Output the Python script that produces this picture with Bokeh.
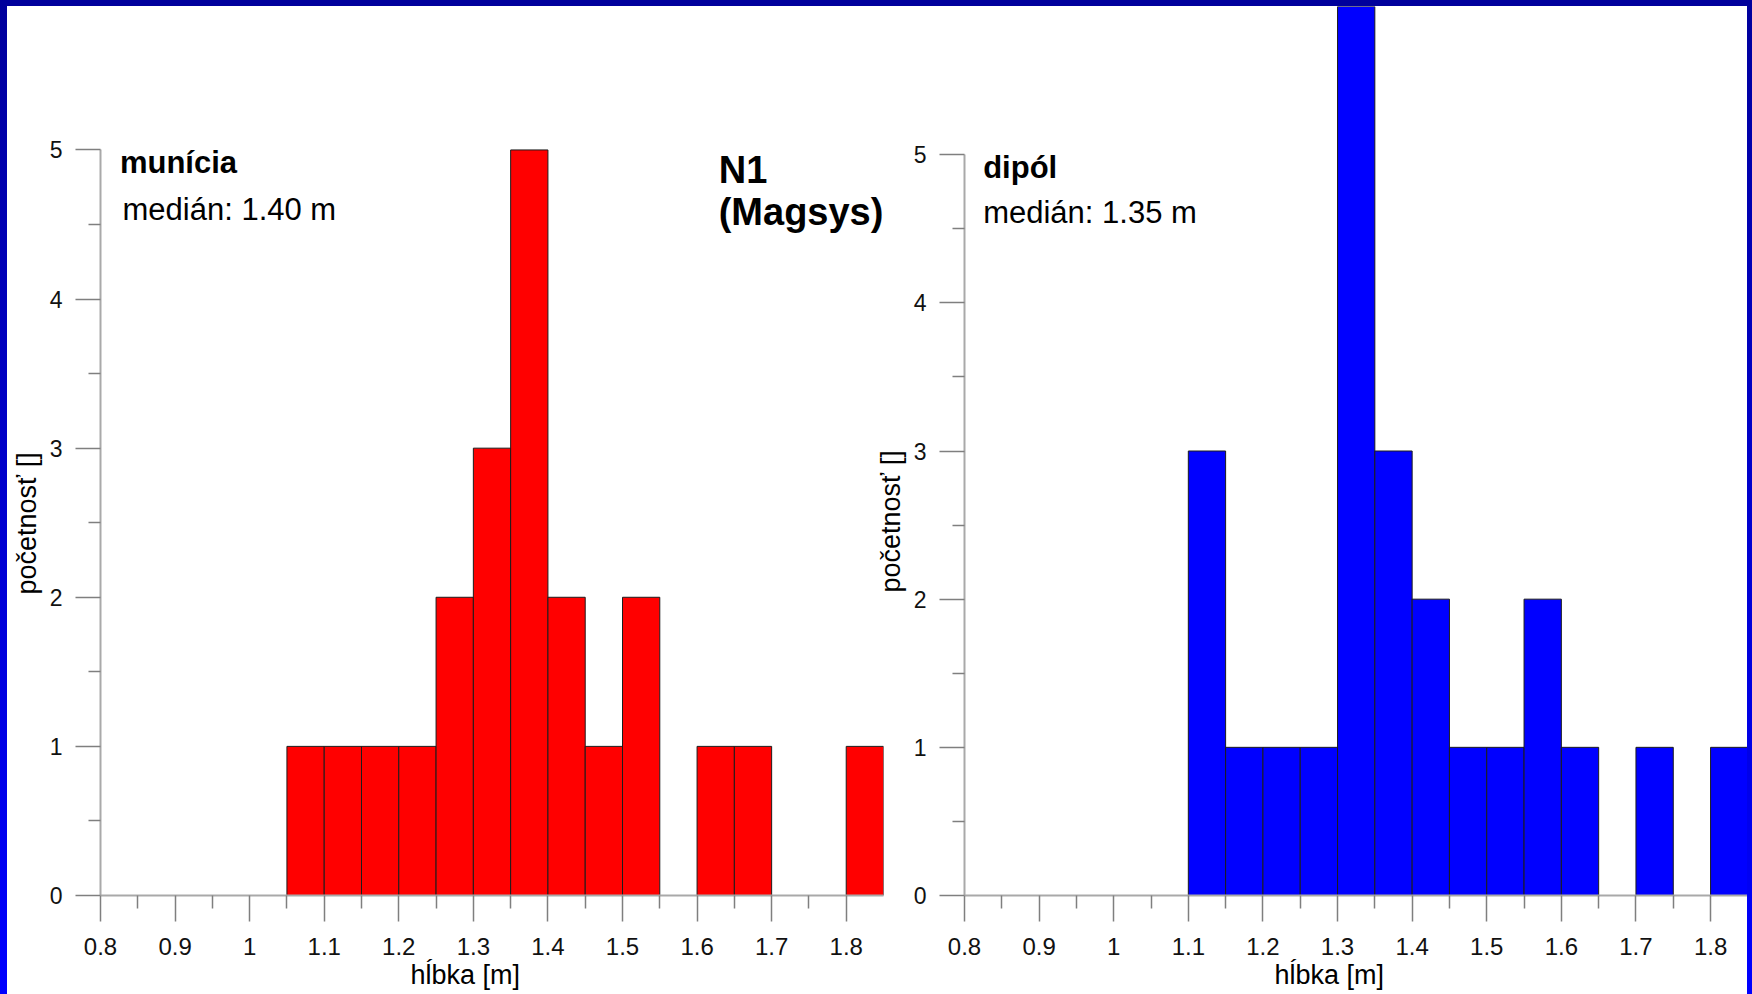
import numpy as np
from bokeh.plotting import figure
from bokeh.layouts import row, column
from bokeh.models import Range1d, FixedTicker, Label, ColumnDataSource, Title, Div
from bokeh.embed import file_html
from bokeh.resources import INLINE

# --- histogram data (depth bins of 0.05 m) ---
bin_width = 0.05

ammo_bin_start = [1.05, 1.10, 1.15, 1.20, 1.25, 1.30, 1.35, 1.40,
                  1.45, 1.50, 1.55, 1.60, 1.65, 1.70, 1.75, 1.80]
ammo_counts = [1, 1, 1, 1, 2, 3, 5, 2, 1, 2, 0, 1, 1, 0, 0, 1]

dipole_bin_start = [1.10, 1.15, 1.20, 1.25, 1.30, 1.35, 1.40, 1.45,
                    1.50, 1.55, 1.60, 1.65, 1.70, 1.75, 1.80]
dipole_counts = [3, 1, 1, 1, 6, 3, 2, 1, 1, 2, 1, 0, 1, 0, 1]

x_ticks = [0.8, 0.9, 1.0, 1.1, 1.2, 1.3, 1.4, 1.5, 1.6, 1.7, 1.8]
x_tick_labels = ["0.8", "0.9", "1", "1.1", "1.2", "1.3", "1.4", "1.5", "1.6", "1.7", "1.8"]
y_ticks = [0, 1, 2, 3, 4, 5]

ammo_title = "munícia"
ammo_median = "medián: 1.40 m"
dipole_title = "dipól"
dipole_median = "medián: 1.35 m"
site_line1 = "N1"
site_line2 = "(Magsys)"
x_label = "hĺbka [m]"
y_label = "početnosť []"

FONT = "Liberation Sans"
AXIS_GREY = "#a9a9a9"
TICK_GREY = "#7f7f7f"
FRAME_DARK = "#00009c"
FRAME_GRADIENT = "linear-gradient(to bottom, #00009c 0%, #0000ff 100%)"


def make_hist(starts, counts, color, width, border_left, border_right,
              border_bottom, x_end, y_end, margin, ylabel_offset):
    p = figure(width=width, height=988,
               x_range=Range1d(0.8, x_end), y_range=Range1d(0, y_end),
               output_backend="svg", toolbar_location=None,
               min_border_left=border_left, min_border_right=border_right,
               min_border_top=0, min_border_bottom=border_bottom,
               background_fill_color=None, border_fill_color=None,
               outline_line_color=None, margin=margin)
    p.grid.visible = False

    keep = [i for i, c in enumerate(counts) if c > 0]
    src = ColumnDataSource(dict(
        left=[starts[i] for i in keep],
        right=[starts[i] + bin_width for i in keep],
        top=[counts[i] for i in keep],
    ))
    p.quad(left="left", right="right", bottom=0, top="top", source=src,
           fill_color=color, line_color="#1c1c1c", line_width=1)

    xa = p.xaxis[0]
    minor_x = list(np.array(x_ticks[:-1]) + bin_width)
    xa.ticker = FixedTicker(ticks=x_ticks, minor_ticks=minor_x)
    xa.major_label_overrides = dict(zip(x_ticks, x_tick_labels))
    xa.axis_line_color = AXIS_GREY
    xa.axis_line_width = 2
    xa.major_tick_line_color = TICK_GREY
    xa.major_tick_line_width = 1.5
    xa.minor_tick_line_color = TICK_GREY
    xa.minor_tick_line_width = 1.5
    xa.major_tick_in = 0
    xa.major_tick_out = 26
    xa.minor_tick_in = 0
    xa.minor_tick_out = 13
    xa.major_label_standoff = 16
    xa.major_label_text_font = FONT
    xa.major_label_text_font_size = "24px"
    xa.major_label_text_color = "#111111"

    ya = p.yaxis[0]
    minor_y = list(np.array(y_ticks[:-1]) + 0.5)
    ya.bounds = (y_ticks[0], y_ticks[-1])
    ya.ticker = FixedTicker(ticks=y_ticks, minor_ticks=minor_y)
    ya.axis_line_color = AXIS_GREY
    ya.axis_line_width = 2
    ya.major_tick_line_color = TICK_GREY
    ya.major_tick_line_width = 1.5
    ya.minor_tick_line_color = TICK_GREY
    ya.minor_tick_line_width = 1.5
    ya.major_tick_in = 0
    ya.major_tick_out = 25
    ya.minor_tick_in = 0
    ya.minor_tick_out = 12
    ya.major_label_standoff = 13
    ya.major_label_text_font = FONT
    ya.major_label_text_font_size = "23px"
    ya.major_label_text_color = "#111111"

    # axis titles, placed along the axes with explicit offsets
    p.add_layout(Title(text=y_label, align="left", offset=ylabel_offset,
                       standoff=10, text_font=FONT, text_font_size="27px",
                       text_font_style="normal", text_color="black"), "left")
    p.add_layout(Title(text=x_label, align="left", offset=310, standoff=0,
                       text_font=FONT, text_font_size="27px",
                       text_font_style="normal", text_color="black"), "below")
    return p


def add_text(p, x, y, text, size, bold=False):
    p.add_layout(Label(x=x, y=y, text=text, text_font=FONT,
                       text_font_size=size,
                       text_font_style="bold" if bold else "normal",
                       text_align="left", text_baseline="alphabetic",
                       text_color="black"))


# left panel: ammunition (transparent canvas may overlap the frame strip)
p1 = make_hist(ammo_bin_start, ammo_counts, "#ff0000", width=883,
               border_left=99, border_right=1, border_bottom=99,
               x_end=1.85, y_end=5.962, margin=(0, 0, 0, -6), ylabel_offset=301)
add_text(p1, 0.826, 4.914, ammo_title, "31px", bold=True)
add_text(p1, 0.8295, 4.602, ammo_median, "31px")
add_text(p1, 1.629, 4.864, site_line1, "38px", bold=True)
add_text(p1, 1.629, 4.582, site_line2, "38px", bold=True)

# right panel: dipoles (its left margin slides under the left panel's edge)
p2 = make_hist(dipole_bin_start, dipole_counts, "#0000ff", width=881,
               border_left=98, border_right=0, border_bottom=93,
               x_end=1.8495, y_end=6.0, margin=(0, 0, 0, -18), ylabel_offset=303)
add_text(p2, 0.825, 4.914, dipole_title, "31px", bold=True)
add_text(p2, 0.825, 4.607, dipole_median, "31px")

# blue slide frame around the two panels
left_strip = Div(text="", width=7, height=994, margin=0,
                 styles={"background": FRAME_GRADIENT})
right_strip = Div(text="", width=5, height=994, margin=0,
                  styles={"background": FRAME_GRADIENT})
top_strip = Div(text="", width=1740, height=6, margin=0,
                styles={"background": FRAME_DARK})

charts = row(p1, p2, margin=0)
middle = column(top_strip, charts, margin=0)
layout = row(left_strip, middle, right_strip, margin=0)

open("out.html", "w").write(file_html(layout, INLINE))
